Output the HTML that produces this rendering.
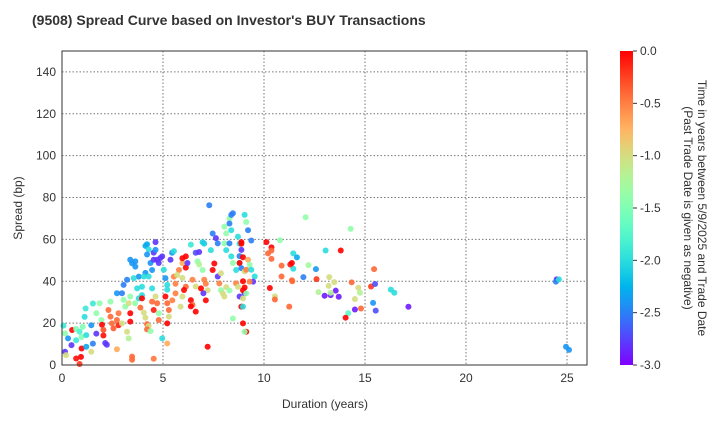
<!DOCTYPE html>
<html><head><meta charset="utf-8"><style>
body{margin:0;background:#fff;font-family:"Liberation Sans",Arial,sans-serif}
svg text{font-family:"Liberation Sans",Arial,sans-serif}
</style></head><body>
<svg id="chart" width="720" height="420" viewBox="0 0 720 420" xmlns="http://www.w3.org/2000/svg">
<defs><linearGradient id="cbg" x1="0" y1="1" x2="0" y2="0"></linearGradient></defs>
<text x="32" y="25" font-size="14" font-weight="bold" fill="#333">(9508)   Spread Curve based on Investor's BUY Transactions</text>
<g id="grid"></g>
<g id="pts"></g>
<rect x="62" y="51" width="525" height="314" fill="none" stroke="#333" stroke-width="1"/>
<g id="xt"></g>
<g id="yt"></g>
<text x="325" y="408" font-size="12" text-anchor="middle" fill="#333">Duration (years)</text>
<text transform="translate(22,208) rotate(-90)" font-size="12" text-anchor="middle" fill="#333">Spread (bp)</text>
<rect id="cbar" x="620" y="51" width="13" height="314" fill="url(#cbg)"/>
<g id="ct"></g>
<text transform="translate(698,208) rotate(90)" font-size="12" text-anchor="middle" fill="#333">Time in years between 5/9/2025 and Trade Date</text>
<text transform="translate(684,208) rotate(90)" font-size="12" text-anchor="middle" fill="#333">(Past Trade Date is given as negative)</text>
</svg>
<script>
const xTicks=[0,5,10,15,20,25];
const yTicks=[0,20,40,60,80,100,120,140];
const cTicks=[0,-0.5,-1,-1.5,-2,-2.5,-3];
const durations=[12.06,14.29,13.05,13.8,11.45,11.63,11.45,11.3,12.2,12.57,12.6,11.95,11.4,13.23,13.48,13.2,13.55,12.7,13.0,13.3,13.7,13.3,14.34,14.67,14.75,14.5,15.3,15.5,15.45,16.28,16.45,15.4,15.53,17.15,14.5,14.8,14.17,14.04,24.49,24.45,24.6,24.95,25.1,
0.07,0.15,0.3,0.47,0.5,0.15,0.2,0.7,0.87,0.97,0.7,1.03,1.2,0.97,0.94,0.7,0.87,1.2,1.12,1.17,1.45,1.45,1.53,1.53,1.7,1.86,1.95,1.7,1.98,2.05,2.05,2.14,2.22,2.3,2.4,2.47,2.55,2.8,2.72,2.4,2.8,2.72,2.72,2.97,3.05,3.13,2.97,3.22,3.3,3.38,3.38,3.38,3.3,3.62,3.47,3.47,3.05,3.22,3.47,3.38,3.63,3.63,3.8,3.55,3.72,3.8,3.96,3.96,3.88,3.96,4.05,4.13,4.21,4.29,4.21,4.38,4.13,4.21,4.29,4.21,4.38,4.13,4.05,4.46,4.29,4.46,4.63,4.54,4.54,4.7,4.79,4.87,4.96,4.63,4.46,4.54,4.63,4.71,4.79,4.79,4.54,4.96,5.04,5.12,5.21,5.21,5.12,5.21,5.29,5.29,5.21,5.21,5.37,5.54,5.62,5.62,5.46,5.45,5.54,5.79,5.7,5.96,5.96,6.13,6.04,5.87,5.96,6.13,5.96,6.13,6.38,6.21,6.38,6.46,6.62,6.38,6.62,6.46,6.62,6.71,6.79,6.96,7.04,6.79,6.96,7.04,7.12,7.21,7.12,7.0,6.88,7.21,7.29,7.46,7.62,7.71,7.37,7.54,7.46,7.71,7.87,7.79,7.87,7.96,8.04,8.13,8.04,8.13,8.04,8.29,8.46,8.38,8.29,8.38,8.29,8.38,8.46,8.62,8.79,8.88,8.79,8.71,8.79,9.04,9.12,9.21,9.37,8.88,8.88,8.96,8.79,8.88,9.04,9.12,9.21,9.29,9.37,9.54,9.46,9.04,8.96,9.04,8.96,8.79,8.96,8.88,8.96,8.96,9.12,9.04,8.46,8.13,8.29,8.62,8.71,9.12,9.29,10.2,10.12,10.37,10.37,10.37,10.87,10.79,10.87,10.29,10.54,10.54,11.25,11.38,11.38];
const spreads=[70.6,65,54.7,54.7,53.3,51.4,46,48,47.7,45.8,41,42,40,42,39.6,37.8,35.5,34.8,33.1,33.4,32.6,34.5,39.5,36.9,34.5,31.5,37.5,38.7,45.8,36,34.5,29.7,26,27.8,26.5,27,24.7,22.6,40.9,39.8,40.9,8.7,7.2,
18.8,15.1,12.7,9.5,16.7,6.3,4.7,17.2,15.9,13.4,11.8,18.3,14.3,7.9,3.9,3.1,0.5,8.7,23,27,6.3,19,10.2,29.4,24.7,29.5,21.5,15,19.2,16.8,14.1,10.5,9.7,26.3,23.1,19.9,17.5,19,21.5,30.3,24.7,7.5,34.3,34.3,31.1,27.9,19.9,15.9,12.7,24.7,20.7,32.7,29.5,29.5,4,2.5,38.3,40.7,48.6,50.3,49.5,47,42.2,41.5,36.6,31.8,33.4,37.4,27.4,31.8,25,22.6,19.5,18.7,17,16.2,56.9,57.7,55.2,52.8,48.7,44,42.3,45.4,42.3,36.6,58.7,53.7,50.3,50.3,48.7,51.1,51.9,55,30.3,26.3,32.7,29.5,24.7,21.5,3,12.7,45.5,41.5,38.3,36,32.7,29.5,26.3,23.1,19.9,10.3,50.3,42.2,38.8,34.2,30.9,53.6,54.4,45.4,43,41.6,48.7,37.4,35.8,27.9,32.7,51.9,51,46.5,57.5,48.7,31,28.7,25.5,28,37.5,40.7,53.6,49.5,48,58.7,58,54,45.4,40.7,38.8,35.7,30.9,34.3,36.6,8.7,76.3,62.8,60.6,58.1,54.9,48.5,45.4,42.3,43.8,39,35.7,34.2,32.7,54.9,58.1,62.9,66.1,70,72.5,71.7,67.6,64.4,58.1,51.9,48.7,45.4,48.7,55,58,61.3,52,71.7,68.3,64.4,59.5,58.7,57.9,51.5,48.7,46.3,44.7,45.5,50.3,47.9,45.5,42.3,39.8,34.3,40,37,35.7,32.7,31.8,27.9,27.9,19.9,15.9,15.9,22.2,37.2,35.6,39,37.4,34.2,39.8,53.3,58.7,56.2,54.7,50.7,47.5,59.6,42.3,36.8,32.8,31.3,27.9,48.7,40.5,51.9];
const tradeTimes=[-1.4,-1.4,-2,0,-2,-2.3,-2,-0.1,-1.3,-2.4,-0.2,-2.5,-0.4,-1,-1,-1,-2.9,-1.2,-2.9,-2.9,-2.9,-1.2,-0.4,-1,-1.2,-1,-0.2,-2.7,-0.4,-2,-2,-2.4,-2.7,-2.9,-2.9,-0.4,-1.7,0,-2.9,-2.5,-2,-2.4,-2.4,
-1.9,-1.4,-2.4,-2.8,0,-2.8,-1,-1.5,-1.8,-1.5,-1.9,-1.5,-2,0,0,-0.05,-0.2,-2.3,-2,-1.9,-1,-2.4,-2.5,-1.9,-1.4,-1.4,-1.4,-2.8,0,-0.3,-0.05,-2.8,-2.8,-0.4,-0.4,-0.4,-0.35,-0.1,-0.4,-1.4,-0.45,-0.7,-2.4,-2.5,-1.4,-1.4,-1,-1,-1.2,0,0,-1.4,-1,-1.4,-0.4,-0.4,-2.5,-2.5,-2.4,-2.4,-2.4,-2.4,-2.4,-2,-2,-2,-2,-2,-0.4,0,-1,-1,-0.4,-1,-0.4,-1.4,-2.3,-2.3,-2,-2.4,-2.4,-2.4,-2,-2.4,-2,-2,-2.8,-2.8,-2.8,-2.8,-2.8,-2.8,-2.8,-2.4,-0.4,-0.1,-1,-0.4,-1.4,-0.4,-0.45,-2,-2,-2.4,-2,-2,0,-0.4,-0.4,-1,0,-0.7,-2.8,-0.5,-0.5,-0.5,-0.5,-2.4,-2,-0.5,-1,-1,-0.7,-0.4,0,-1,-1,0,0,0,-1.9,-2.8,0,-0.4,0,0,-1,-0.5,-2.7,-1.4,-1.2,-2.1,-2.1,-2.8,-1.4,-0.5,-0.5,-1,0,-2.8,0,0,-2.5,-2.5,-2.8,-2.5,-2,0,0,-2.8,-1,-0.5,-1.4,-1,-1,-2,-1.4,-1.4,-1.4,-1.4,-2.5,-2.5,-2.5,-2,-2.5,-2,-1.4,-2,-2,-2.8,-2,-2,-2.5,-2,-1.4,-2.5,-2.5,0,0,0,0,-2.5,-1,-0.5,-0.7,-1.4,-2,-2,-2.8,-2.8,0,0,0,-2.8,-1,0,-2,0,0,-1.4,-1.4,-1,-1.4,-0.5,-1,-1.4,-0.5,-0.4,0,0,-0.4,-0.4,-0.4,-1.4,-0.4,0,-1,-0.4,-0.4,0,-0.4,-2];
const NS='http://www.w3.org/2000/svg';
const X0=62,X1=587,Y0=365,Y1=51;
const xs=v=>X0+v*(567-62)/25;
const ys=v=>Y0-v*(Y0-Y1)/150;
const cs=v=>Y0+(v+3)*(Y1-Y0)/3;
function rainbow(t){const x=(t+3)/3;const c=v=>Math.round(255*Math.max(0,Math.min(1,v)));
return `rgb(${c(Math.abs(2*x-0.5))},${c(Math.sin(Math.PI*x))},${c(Math.cos(Math.PI*x/2))})`;}
function mk(tag,attrs,parent){const e=document.createElementNS(NS,tag);for(const k in attrs)e.setAttribute(k,attrs[k]);parent.appendChild(e);return e;}
const grid=document.getElementById('grid'),xt=document.getElementById('xt'),yt=document.getElementById('yt'),ct=document.getElementById('ct'),pts=document.getElementById('pts');
xTicks.forEach(v=>{
 const l=mk('line',{x1:xs(v),x2:xs(v),y1:Y1,y2:Y0,stroke:'#777','stroke-dasharray':'1.5,2','stroke-width':1},grid);
 
 
 const t=mk('text',{x:xs(v),y:Y0+17,'font-size':12,'text-anchor':'middle',fill:'#333'},xt);t.textContent=v;
 
 
});
yTicks.forEach(v=>{
 const l=mk('line',{x1:X0,x2:X1,y1:ys(v),y2:ys(v),stroke:'#777','stroke-dasharray':'1.5,2','stroke-width':1},grid);
 
 
 const t=mk('text',{x:X0-6,y:ys(v)+4,'font-size':12,'text-anchor':'end',fill:'#333'},yt);t.textContent=v;
 
 
});
const g=document.getElementById('cbg');
for(let i=0;i<=20;i++){const s=mk('stop',{offset:(i*5)+'%','stop-color':rainbow(-3+3*i/20)},g);}
cTicks.forEach(v=>{
 mk('line',{x1:633,x2:637,y1:cs(v),y2:cs(v),stroke:'#333'},ct);
 const t=mk('text',{x:640,y:cs(v)+4,'font-size':12,fill:'#333'},ct);t.textContent=v.toFixed(1);
 
 
});
durations.forEach((d,i)=>{
 const c=mk('circle',{cx:xs(d),cy:ys(spreads[i]),r:3,fill:rainbow(tradeTimes[i]),'fill-opacity':0.9},pts);
 
 
});
</script>
</body></html>
